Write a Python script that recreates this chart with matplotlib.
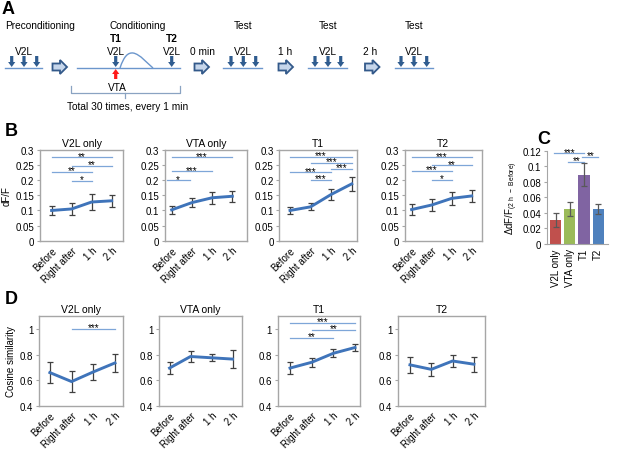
import numpy as np
import matplotlib
matplotlib.use("Agg")
import matplotlib.pyplot as plt
from matplotlib.patches import Polygon, PathPatch
from matplotlib.path import Path

plt.rcParams['font.family'] = ['Liberation Sans', 'DejaVu Sans']
plt.rcParams['mathtext.fontset'] = 'custom'
plt.rcParams['mathtext.rm'] = 'Liberation Sans'
plt.rcParams['font.size'] = 7

# ---- data ----
time_labels = ["Before", "Right after", "1 h", "2 h"]
groups = ["V2L only", "VTA only", "T1", "T2"]

# B: dF/F
dff_v2l = [0.100, 0.105, 0.128, 0.132]
dff_v2l_err = [0.016, 0.021, 0.026, 0.020]
dff_vta = [0.102, 0.126, 0.142, 0.147]
dff_vta_err = [0.014, 0.015, 0.019, 0.019]
dff_t1 = [0.100, 0.112, 0.153, 0.188]
dff_t1_err = [0.012, 0.012, 0.018, 0.022]
dff_t2 = [0.103, 0.118, 0.140, 0.148]
dff_t2_err = [0.017, 0.019, 0.021, 0.021]

sig_b_v2l = [(0, 3, 0.276, "**"), (1, 3, 0.248, "**"), (0, 2, 0.228, "**"), (1, 2, 0.199, "*")]
sig_b_vta = [(0, 3, 0.276, "***"), (0, 2, 0.229, "***"), (-0.25, 0.9, 0.200, "*")]
sig_b_t1 = [(0, 3, 0.277, "***"), (1, 3, 0.258, "***"), (2, 3, 0.238, "***"),
            (0, 2, 0.226, "***"), (1, 2, 0.202, "***")]
sig_b_t2 = [(0, 3, 0.276, "***"), (1, 3, 0.250, "**"), (0, 2, 0.232, "***"), (1, 2, 0.202, "*")]

# C: delta dF/F (2 h - Before)
delta_dff = [0.031, 0.045, 0.089, 0.045]
delta_dff_err = [0.0095, 0.009, 0.015, 0.0065]
bar_colors = ["#c0504d", "#9bbb59", "#8064a2", "#4f81bd"]
sig_c = [(0, 2, 0.1165, "***"), (1, 2, 0.106, "**"), (2, 3, 0.112, "**")]

# D: cosine similarity
cos_v2l = [0.66, 0.59, 0.665, 0.735]
cos_v2l_err = [0.082, 0.080, 0.062, 0.072]
cos_vta = [0.695, 0.785, 0.775, 0.765]
cos_vta_err = [0.045, 0.045, 0.028, 0.070]
cos_t1 = [0.695, 0.740, 0.810, 0.855]
cos_t1_err = [0.048, 0.035, 0.030, 0.030]
cos_t2 = [0.720, 0.685, 0.750, 0.725]
cos_t2_err = [0.065, 0.048, 0.050, 0.060]

sig_d_v2l = [(1, 3, 1.0, "***")]
sig_d_vta = []
sig_d_t1 = [(0, 3, 1.047, "***"), (1, 3, 0.995, "**"), (0, 2, 0.93, "**")]
sig_d_t2 = []

W, H = 617, 452
fig = plt.figure(figsize=(W / 100, H / 100), dpi=100)

LINE = "#3f74ba"
ERR = "#404040"
SIGC = "#7ea6d8"
FRAME = "#a6a6a6"


def px_axes(x0, x1, y0, y1):
    # pixel box (top-left origin) -> figure axes
    return fig.add_axes([x0 / W, 1 - y1 / H, (x1 - x0) / W, (y1 - y0) / H])


# ---- panel A: schematic, drawn in pixel coordinates ----
axA = fig.add_axes([0, 0, 1, 1])
axA.set_xlim(0, W)
axA.set_ylim(H, 0)
axA.axis("off")

ARROW = "#2f5c8f"
BASE = "#6b96cc"


def down_arrow(x, y0=57, y1=68, color=ARROW):
    pts = [(x - 1.6, y0), (x + 1.6, y0), (x + 1.6, y1 - 5), (x + 3.6, y1 - 5),
           (x, y1), (x - 3.6, y1 - 5), (x - 1.6, y1 - 5)]
    axA.add_patch(Polygon(pts, closed=True, fc=color, ec="none"))


def up_arrow(x, y0=70, y1=80, color="#ff1a1a"):
    pts = [(x, y0), (x + 3.6, y0 + 5), (x + 1.6, y0 + 5), (x + 1.6, y1),
           (x - 1.6, y1), (x - 1.6, y0 + 5), (x - 3.6, y0 + 5)]
    axA.add_patch(Polygon(pts, closed=True, fc=color, ec="none"))


def block_arrow(x, y=68):
    pts = [(x - 7, y - 3.5), (x + 0.5, y - 3.5), (x + 0.5, y - 7), (x + 7.5, y),
           (x + 0.5, y + 7), (x + 0.5, y + 3.5), (x - 7, y + 3.5)]
    axA.add_patch(Polygon(pts, closed=True, fc="#c6d6eb", ec="#33598a", lw=1.3))


axA.text(2, 9, "A", fontsize=13, fontweight="bold", va="center", ha="left")
axA.text(40, 26, "Preconditioning", ha="center", va="center", fontsize=7.3)
axA.text(138, 26, "Conditioning", ha="center", va="center", fontsize=7.3)
for xt in [243, 328, 414]:
    axA.text(xt, 26, "Test", ha="center", va="center", fontsize=7.3)

trains = [(5, 42, [11.7, 24, 36.7]), (223, 262, [231, 243.3, 255.7]),
          (308, 347, [315, 328, 340.7]), (395, 433, [401, 414, 426.7])]
for x0, x1, xs in trains:
    axA.plot([x0, x1], [69.3, 69.3], color=BASE, lw=1)
    for xa in xs:
        down_arrow(xa)
    axA.text(np.mean(xs), 52, "V2L", ha="center", va="center", fontsize=7.3)

# conditioning trial
axA.plot([77, 180], [69.3, 69.3], color=BASE, lw=1)
down_arrow(115.7)
down_arrow(171.7)
up_arrow(115.7)
axA.text(116, 39, "T1", ha="center", va="center", fontweight="bold", fontsize=7.3)
axA.text(172, 39, "T2", ha="center", va="center", fontweight="bold", fontsize=7.3)
axA.text(116, 52, "V2L", ha="center", va="center", fontsize=7.3)
axA.text(172, 52, "V2L", ha="center", va="center", fontsize=7.3)
curve = Path([(120, 69), (124, 57), (128, 53.5), (133, 54),
              (140, 55), (148, 65), (153, 69)],
             [Path.MOVETO, Path.CURVE4, Path.CURVE4, Path.CURVE4,
              Path.CURVE4, Path.CURVE4, Path.CURVE4])
axA.add_patch(PathPatch(curve, fc="none", ec=BASE, lw=1))
axA.text(117, 88, "VTA", ha="center", va="center", fontsize=7.3)
axA.plot([71, 71, 180, 180], [87, 94, 94, 87], color="#8aa3c2", lw=0.9)
axA.plot([125, 125], [94, 99], color="#8aa3c2", lw=0.9)
axA.text(127.5, 107, "Total 30 times, every 1 min", ha="center", va="center", fontsize=7.3)

for xb in [59.5, 201.5, 285.5, 372]:
    block_arrow(xb)
axA.text(203, 52, "0 min", ha="center", va="center", fontsize=7.3)
axA.text(285, 52, "1 h", ha="center", va="center", fontsize=7.3)
axA.text(370, 52, "2 h", ha="center", va="center", fontsize=7.3)

# ---- helpers for line panels ----


def line_panel(ax, means, errs, sigs, ylim, yticks, xlim, title, star_off):
    x = np.arange(len(means))
    ax.errorbar(x, means, yerr=errs, color=LINE, lw=2.1, ecolor=ERR,
                elinewidth=0.9, capsize=2.3, capthick=0.9, zorder=3)
    ax.set_xlim(*xlim)
    ax.set_ylim(*ylim)
    ax.set_yticks(yticks)
    ax.set_yticklabels(["%g" % v for v in yticks])
    ax.set_xticks(x)
    ax.set_xticklabels(time_labels, rotation=45, ha="right", rotation_mode="anchor")
    ax.tick_params(axis="x", length=0, pad=3)
    ax.tick_params(axis="y", length=2.5, color=FRAME, pad=1.5)
    for s in ax.spines.values():
        s.set_color(FRAME)
        s.set_linewidth(1)
    ax.set_title(title, fontsize=7.5, pad=3)
    for i, j, y, lab in sigs:
        ax.plot([i, j], [y, y], color=SIGC, lw=0.9, clip_on=False)
        ax.text((i + j) / 2, y + star_off, lab, ha="center", va="center",
                fontsize=7, clip_on=False)


b_boxes = [(40, 123.3), (165, 246.7), (279.3, 356.7), (405, 481.7)]
b_xlims = [(-0.58, 3.58), (-0.33, 3.71), (-0.52, 3.24), (-0.33, 3.5)]
b_means = [dff_v2l, dff_vta, dff_t1, dff_t2]
b_errs = [dff_v2l_err, dff_vta_err, dff_t1_err, dff_t2_err]
b_sigs = [sig_b_v2l, sig_b_vta, sig_b_t1, sig_b_t2]
for k in range(4):
    ax = px_axes(b_boxes[k][0], b_boxes[k][1], 151, 241.7)
    line_panel(ax, b_means[k], b_errs[k], b_sigs[k], (0, 0.3),
               [0, 0.05, 0.1, 0.15, 0.2, 0.25, 0.3], b_xlims[k], groups[k], 0.005)
    if k == 0:
        ax.set_ylabel("dF/F", labelpad=3)
fig.text(5 / W, 1 - 132 / H, "B", fontsize=13, fontweight="bold", va="center")

d_boxes = [(39, 123), (159, 242), (277.7, 360), (398, 485)]
d_xlims = [(-0.5, 3.37), (-0.5, 3.45), (-0.57, 3.23), (-0.56, 3.52)]
d_means = [cos_v2l, cos_vta, cos_t1, cos_t2]
d_errs = [cos_v2l_err, cos_vta_err, cos_t1_err, cos_t2_err]
d_sigs = [sig_d_v2l, sig_d_vta, sig_d_t1, sig_d_t2]
for k in range(4):
    ax = px_axes(d_boxes[k][0], d_boxes[k][1], 317, 407)
    line_panel(ax, d_means[k], d_errs[k], d_sigs[k], (0.4, 1.1),
               [0.4, 0.6, 0.8, 1.0], d_xlims[k], groups[k], 0.013)
    if k == 0:
        ax.set_ylabel("Cosine similarity", labelpad=3)
fig.text(5 / W, 1 - 300 / H, "D", fontsize=13, fontweight="bold", va="center")

# ---- panel C: bar chart ----
axC = px_axes(547, 608, 151.7, 245)
xc = np.arange(len(groups))
axC.bar(xc, delta_dff, width=0.78, color=bar_colors, zorder=2)
axC.errorbar(xc, delta_dff, yerr=delta_dff_err, fmt="none", ecolor="#595959",
             elinewidth=0.9, capsize=2, capthick=0.9, zorder=3)
axC.set_xlim(-0.62, 3.7)
axC.set_ylim(0, 0.12)
cticks = [0, 0.02, 0.04, 0.06, 0.08, 0.1, 0.12]
axC.set_yticks(cticks)
axC.set_yticklabels(["%g" % v for v in cticks])
axC.set_xticks(xc)
axC.set_xticklabels(groups, rotation=90)
axC.tick_params(axis="x", length=0, pad=3)
axC.tick_params(axis="y", length=2.5, color=FRAME, pad=1.5)
for side in ["top", "right"]:
    axC.spines[side].set_visible(False)
for side in ["left", "bottom"]:
    axC.spines[side].set_color(FRAME)
axC.set_ylabel("ΔdF/F$_{\\rm (2\\ h\\ -\\ Before)}$", labelpad=2)
for i, j, y, lab in sig_c:
    axC.plot([i - 0.15, j], [y, y], color=SIGC, lw=0.9, clip_on=False)
    axC.text((i + j) / 2, y + 0.002, lab, ha="center", va="center",
             fontsize=7, clip_on=False)
fig.text(537 / W, 1 - 139 / H, "C", fontsize=13, fontweight="bold", va="center")

fig.savefig("out.png", dpi=100)
